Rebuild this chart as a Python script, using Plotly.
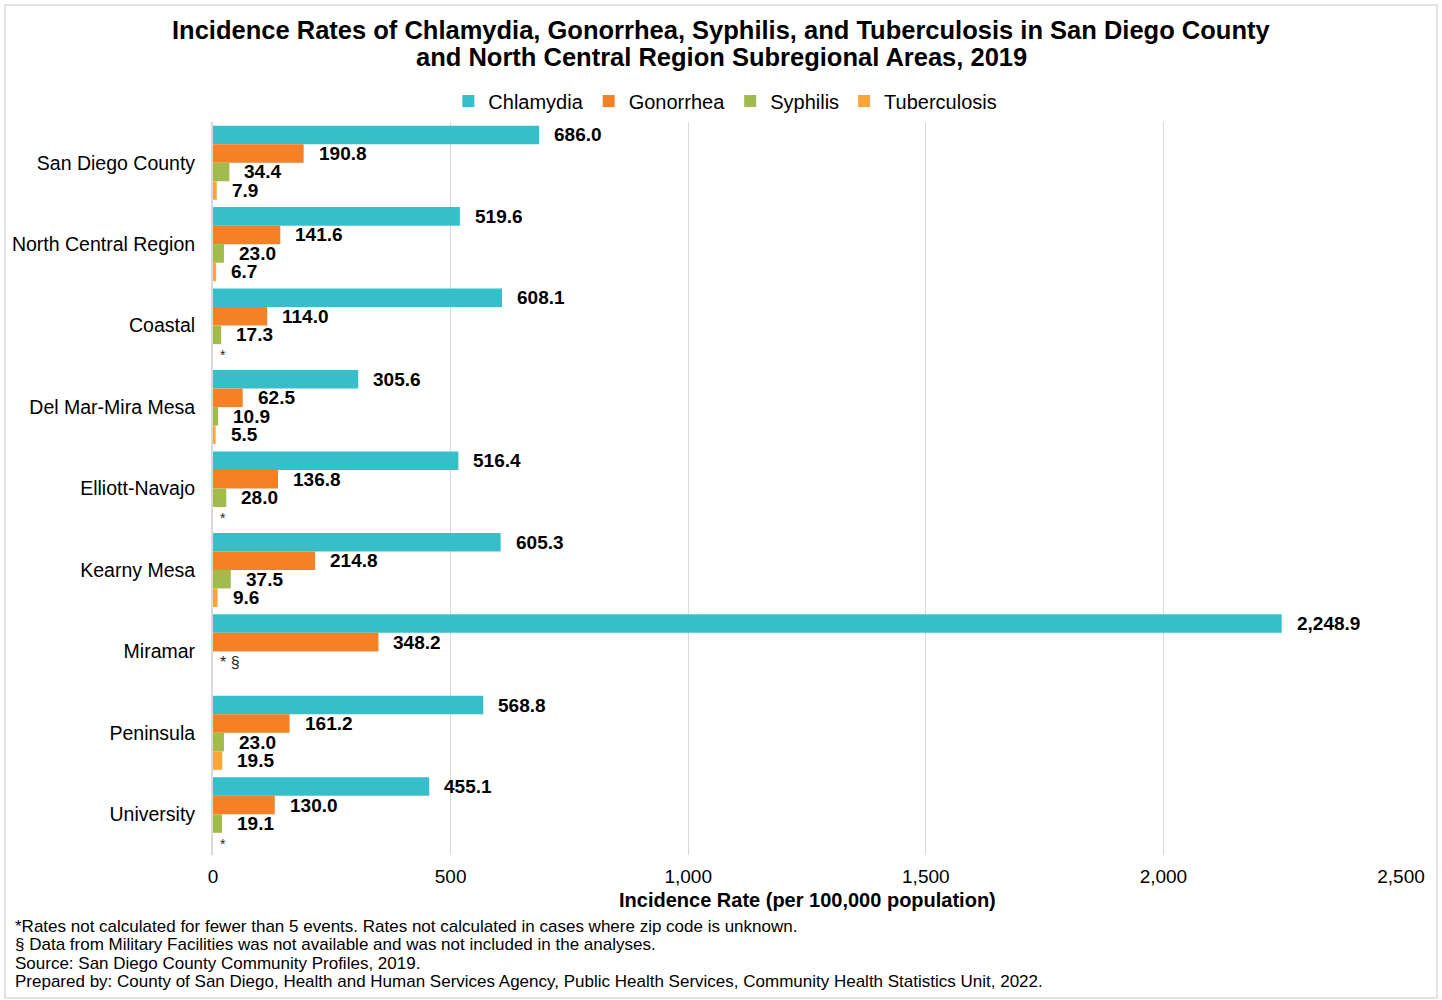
import plotly.graph_objects as go

categories = ["San Diego County", "North Central Region", "Coastal", "Del Mar-Mira Mesa",
              "Elliott-Navajo", "Kearny Mesa", "Miramar", "Peninsula", "University"]
chlamydia = [686.0, 519.6, 608.1, 305.6, 516.4, 605.3, 2248.9, 568.8, 455.1]
gonorrhea = [190.8, 141.6, 114.0, 62.5, 136.8, 214.8, 348.2, 161.2, 130.0]
syphilis = [34.4, 23.0, 17.3, 10.9, 28.0, 37.5, None, 23.0, 19.1]
tuberculosis = [7.9, 6.7, None, 5.5, None, 9.6, None, 19.5, None]
# note markers shown where rates are missing
syphilis_notes = ["", "", "", "", "", "", "* §", "", ""]
tuberculosis_notes = ["", "", "*", "", "*", "", "", "", "*"]

series = [
    ("Chlamydia", chlamydia, "#37BFC9", None),
    ("Gonorrhea", gonorrhea, "#F58026", None),
    ("Syphilis", syphilis, "#A2BB4D", syphilis_notes),
    ("Tuberculosis", tuberculosis, "#FAA637", tuberculosis_notes),
]
x_ticks = [0, 500, 1000, 1500, 2000, 2500]
title_lines = [
    "Incidence Rates of Chlamydia, Gonorrhea, Syphilis, and Tuberculosis in San Diego County",
    "and North Central Region Subregional Areas, 2019",
]

W, H = 1442, 1000
L, R, T, B = 213, 41, 122, 145
PW, PH = W - L - R, H - T - B

def px_x(p):
    return (p - L) / PW

def px_y(p):
    return (H - B - p) / PH

fig = go.Figure()
for name, vals, color, _ in series:
    fig.add_trace(go.Bar(
        y=categories, x=vals, name=name, orientation="h",
        marker=dict(color=color, line=dict(width=0)),
    ))

pitch = PH / len(categories) * 0.91 / 4
shifts = [1.5 * pitch, 0.5 * pitch, -0.5 * pitch, -1.5 * pitch]
annotations = []
for (name, vals, color, notes), ys in zip(series, shifts):
    for i, (cat, v) in enumerate(zip(categories, vals)):
        if v is not None:
            annotations.append(dict(
                x=v, y=cat, xref="x", yref="y", text="<b>{:,.1f}</b>".format(v),
                showarrow=False, xanchor="left", yanchor="middle", xshift=13, yshift=ys,
                font=dict(family="Arial", size=19, color="#000000"),
            ))
        elif notes and notes[i]:
            annotations.append(dict(
                x=0, y=cat, xref="x", yref="y", text=notes[i],
                showarrow=False, xanchor="left", yanchor="middle", xshift=5, yshift=ys - 2,
                font=dict(family="Arial", size=14 if notes[i] == "*" else 16, color="#262626"),
            ))

for k, t in enumerate(title_lines):
    annotations.append(dict(
        x=px_x(721), y=px_y(30 + 27 * k), xref="paper", yref="paper",
        text="<b>" + t + "</b>", showarrow=False, xanchor="center", yanchor="middle",
        font=dict(family="Arial", size=25.5, color="#000000"),
    ))

annotations.append(dict(
    x=0.5, y=px_y(900), xref="paper", yref="paper",
    text="<b>Incidence Rate (per 100,000 population)</b>", showarrow=False,
    xanchor="center", yanchor="middle", font=dict(family="Arial", size=20, color="#000000"),
))
footnotes = [
    "*Rates not calculated for fewer than 5 events. Rates not calculated in cases where zip code is unknown.",
    "§ Data from Military Facilities was not available and was not included in the analyses.",
    "Source: San Diego County Community Profiles, 2019.",
    "Prepared by: County of San Diego, Health and Human Services Agency, Public Health Services, Community Health Statistics Unit, 2022.",
]
for k, t in enumerate(footnotes):
    annotations.append(dict(
        x=px_x(13), y=px_y(926 + k * 18.5), xref="paper", yref="paper", text=t,
        showarrow=False, xanchor="left", yanchor="middle",
        font=dict(family="Arial", size=17, color="#000000"),
    ))

fig.update_layout(
    width=W, height=H,
    margin=dict(l=L, r=R, t=T, b=B, autoexpand=False),
    paper_bgcolor="white", plot_bgcolor="white",
    barmode="group", bargap=0.09, bargroupgap=0,
    legend=dict(
        orientation="h", xref="container", yref="container",
        x=0.503, xanchor="center", y=1 - 101 / H, yanchor="middle",
        font=dict(family="Arial", size=20, color="#000000"),
        itemwidth=30, tracegroupgap=0, traceorder="normal",
    ),
    xaxis=dict(
        range=[0, 2500], tickvals=x_ticks, tickformat=",",
        showgrid=True, gridcolor="#D9D9D9", gridwidth=1,
        zeroline=False, showline=False, ticks="", ticklabelstandoff=8,
        tickfont=dict(family="Arial", size=19, color="#000000"),
    ),
    yaxis=dict(
        autorange="reversed", showgrid=False, showline=True, linecolor="#D9D9D9", linewidth=2,
        ticks="", ticklabelstandoff=12,
        tickfont=dict(family="Arial", size=19.5, color="#000000"),
    ),
    annotations=annotations,
    shapes=[dict(
        type="rect", xref="paper", yref="paper",
        x0=px_x(5), x1=px_x(1437), y0=px_y(998), y1=px_y(5),
        line=dict(color="#D9D9D9", width=1.5), fillcolor="rgba(0,0,0,0)", layer="below",
    )],
)

fig.write_html("out.html", config={"displayModeBar": False},
               post_script="document.body.style.margin='0';document.body.style.padding='0';")
